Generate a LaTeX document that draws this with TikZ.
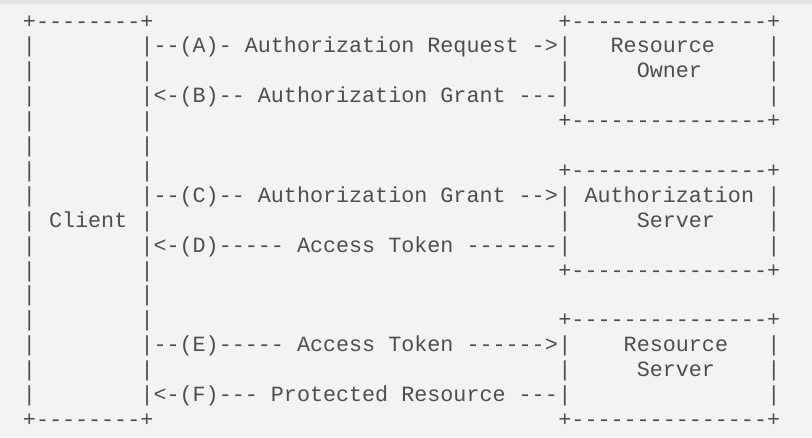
\documentclass[tikz,border=0pt]{standalone}
\usepackage{fontspec}
\setmonofont{Liberation Mono}
\usepackage{xcolor}
\usepackage{tikz}
\usetikzlibrary{positioning}

\definecolor{inkgray}{HTML}{4E4E4E}
\definecolor{paper}{HTML}{F3F3F3}
\definecolor{strip}{HTML}{E3E3E3}

\tikzset{
    ascii/.style={font=\ttfamily\fontsize{16.3pt}{18pt}\selectfont, text=inkgray, anchor=base west, inner sep=0pt, outer sep=0pt}
}

\begin{document}
\begin{tikzpicture}[x=9.795pt, y=-18.675pt]
    % Background
    \useasboundingbox (-1.7588,-1.1285) rectangle (60.416,16.422);
    \fill [paper] (-1.7588,-1.1285) rectangle (60.416,16.422);
    \fill [strip] (-1.7588,-1.1285) rectangle (60.416,-0.968);

    % Client box
    \node [ascii] (cltop) at (0,0) {+--------+};
    \node [ascii] (clbot) at (0,16) {+--------+};
    \foreach \r in {1,...,15} {
        \node [ascii] (clL\r) at (0,\r) {|};
        \node [ascii] (clR\r) at (9,\r) {|};
    }
    \node [ascii] (client) at (2,8) {Client};

    % Server boxes
    \foreach \t/\nm in {0/owner, 6/authsrv, 12/ressrv} {
        \node [ascii] (\nm top) at (41,\t) {+---------------+};
        \node [ascii] (\nm bot) at (41,\t+4) {+---------------+};
        \foreach \s in {1,2,3} {
            \node [ascii] (\nm L\s) at (41,\t+\s) {|};
            \node [ascii] (\nm R\s) at (57,\t+\s) {|};
        }
    }
    \node [ascii] (ownerA) at (45,1) {Resource};
    \node [ascii] (ownerB) at (47,2) {Owner};
    \node [ascii] (authA) at (43,7) {Authorization};
    \node [ascii] (authB) at (47,8) {Server};
    \node [ascii] (resA) at (46,13) {Resource};
    \node [ascii] (resB) at (47,14) {Server};

    % Messages
    \foreach \r/\k/\m in {1/A/{--(A)- Authorization Request ->},
                          3/B/{<-(B)-- Authorization Grant ---},
                          7/C/{--(C)-- Authorization Grant -->},
                          9/D/{<-(D)----- Access Token -------},
                          13/E/{--(E)----- Access Token ------>},
                          15/F/{<-(F)--- Protected Resource ---}} {
        \node [ascii] (msg\k) at (10,\r) {\m};
    }
\end{tikzpicture}
\end{document}
